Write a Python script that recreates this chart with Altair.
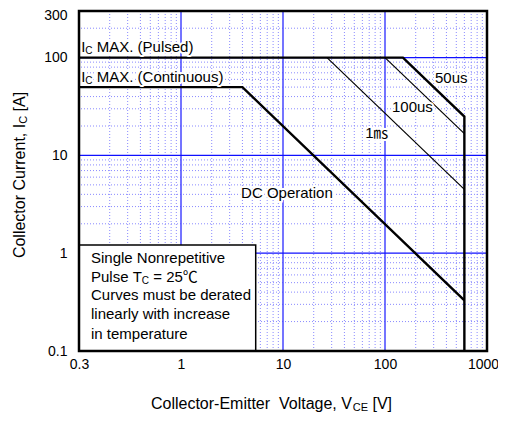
import altair as alt
import pandas as pd

FONT = "Liberation Sans, Arial, sans-serif"
CJK = "Noto Sans CJK KR, Noto Sans CJK JP, sans-serif"

# ---------------- axes ----------------
x_domain = [0.1, 1000]
y_domain = [0.1, 300]
x_tick_values = [0.1, 1, 10, 100, 1000]
x_tick_labels = ["0.3", "1", "10", "100", "1000"]
y_tick_values = [0.1, 1, 10, 100, 300]
y_tick_labels = ["0.1", "1", "10", "100", "300"]

# grid values
major_x = [1, 10, 100]
major_y = [1, 10, 100]
minor_x = [m * d for d in (0.1, 1, 10, 100) for m in range(2, 10)]
minor_y = [m * d for d in (0.1, 1, 10) for m in range(2, 10)] + [200]

# ---------------- curves (V_CE [V], I_C [A]) ----------------
curve_names = ["50us", "DC", "100us", "1ms"]
curve_v = {
    "50us": [0.1, 150, 600, 600],
    "DC": [0.1, 4, 600],
    "100us": [100, 600],
    "1ms": [27, 600],
}
curve_i = {
    "50us": [100, 100, 25, 0.1],
    "DC": [50, 50, 0.33],
    "100us": [100, 16.7],
    "1ms": [100, 4.5],
}
thick_curves = ["50us", "DC"]

# note box extent (data units)
box_v = [0.1, 5.4]
box_i = [0.1, 1.21]

# ---------------- texts ----------------
SUB = "sub"
CJ = "cjk"
annotations = [
    # (V, I, parts)
    (0.105, 130, [("I", ""), ("C", SUB), (" MAX. (Pulsed)", "")]),
    (0.105, 63.8, [("I", ""), ("C", SUB), (" MAX. (Continuous)", "")]),
    (309, 62.4, [("50us", "")]),
    (117, 31.4, [("100us", "")]),
    (64, 17.0, [("1", ""), ("\u33b3", CJ)]),
    (3.88, 4.12, [("DC Operation", "")]),
]
note_x = 0.131
note_y = [0.889, 0.567, 0.371, 0.237, 0.148]
note_lines = [
    [("Single Nonrepetitive", "")],
    [("Pulse T", ""), ("C", SUB), (" = 25", ""), ("\u2103", CJ)],
    [("Curves must be derated", "")],
    [("linearly with increase", "")],
    [("in temperature", "")],
]
x_title_parts = [("Collector-Emitter  Voltage, V", ""), ("CE", SUB), (" [V]", "")]
y_title_parts = [("Collector Current, I", ""), ("C", SUB), (" [A]", "")]

# ---------------- helpers ----------------
W = {" ": 278, "!": 278, "(": 333, ")": 333, ",": 278, "-": 333, ".": 278,
     "=": 584, "[": 278, "]": 278,
     "A": 667, "C": 722, "D": 722, "E": 667, "I": 278, "M": 833, "N": 722,
     "O": 778, "P": 667, "S": 667, "T": 611, "V": 667, "X": 667,
     "a": 556, "b": 556, "c": 500, "d": 556, "e": 556, "f": 278, "g": 556,
     "h": 556, "i": 222, "k": 500, "l": 222, "m": 833, "n": 556, "o": 556,
     "p": 556, "r": 333, "s": 500, "t": 278, "u": 556, "v": 500, "w": 722,
     "y": 500, "\u2103": 1000, "\u33b3": 1000}


def tw(s, fs):
    return sum(W.get(ch, 556) for ch in s) * fs / 1000.0


def split_lead(t):
    """leading spaces are dropped by the renderer: turn them into offset."""
    body = t.lstrip(" ")
    lead = len(t) - len(body)
    return lead, body.rstrip(" ").replace(" ", "\u00a0")


def label_expr(values, labels):
    expr = "''"
    for v, l in reversed(list(zip(values, labels))):
        expr = f"(abs(datum.value - {v}) < {v * 1e-6} ? '{l}' : {expr})"
    return expr


xs = alt.Scale(type="log", domain=x_domain, nice=False)
ys = alt.Scale(type="log", domain=y_domain, nice=False)
x_axis = alt.Axis(values=x_tick_values, labelExpr=label_expr(x_tick_values, x_tick_labels),
                  title=None, grid=False, ticks=False, tickSize=0, domain=False,
                  labelFont=FONT, labelFontSize=14, labelColor="black", labelPadding=6,
                  labelFlush=False, labelOverlap=False,
                  labelOffset={"condition": {"test": "datum.value > 500", "value": -4},
                               "value": 0})
y_axis = alt.Axis(values=y_tick_values, labelExpr=label_expr(y_tick_values, y_tick_labels),
                  title=None, grid=False, ticks=False, tickSize=0, domain=False,
                  labelFont=FONT, labelFontSize=14, labelColor="black", labelPadding=12,
                  labelFlush=False, labelOverlap=False,
                  labelOffset={"condition": {"test": "datum.value > 200", "value": 4},
                               "value": 0})


def X(f):
    return alt.X(f, type="quantitative", scale=xs, axis=x_axis)


def Y(f):
    return alt.Y(f, type="quantitative", scale=ys, axis=y_axis)


ANN = 15
SUBFS = 10

layers = []

# minor grid
layers.append(alt.Chart(pd.DataFrame({"gx": minor_x})).mark_rule(
    color="#8a8aff", strokeWidth=1, strokeDash=[1, 2]).encode(x=X("gx")))
layers.append(alt.Chart(pd.DataFrame({"gy": minor_y})).mark_rule(
    color="#8a8aff", strokeWidth=1, strokeDash=[1, 2]).encode(y=Y("gy")))
# major grid
layers.append(alt.Chart(pd.DataFrame({"gx": major_x})).mark_rule(
    color="#4646ff", strokeWidth=1.5).encode(x=X("gx")))
layers.append(alt.Chart(pd.DataFrame({"gy": major_y})).mark_rule(
    color="#1010ff", strokeWidth=1.2).encode(y=Y("gy")))

# curves
rows = []
for name in curve_names:
    for k, (v, i) in enumerate(zip(curve_v[name], curve_i[name])):
        rows.append({"series": name, "v": v, "i": i, "k": k})
curves = pd.DataFrame(rows)
thick = curves[curves.series.isin(thick_curves)]
thin = curves[~curves.series.isin(thick_curves)]
layers.append(alt.Chart(thin).mark_line(color="black", strokeWidth=1.2).encode(
    x=X("v"), y=Y("i"), detail="series:N", order="k:Q"))
layers.append(alt.Chart(thick).mark_line(color="black", strokeWidth=2.4).encode(
    x=X("v"), y=Y("i"), detail="series:N", order="k:Q"))

# note box
layers.append(alt.Chart(pd.DataFrame({"v": [box_v[0]], "v2": [box_v[1]],
                                      "i": [box_i[0]], "i2": [box_i[1]]})).mark_rect(
    fill="white", stroke="black", strokeWidth=1.5).encode(
    x=X("v"), x2="v2", y=Y("i"), y2="i2"))

halos, texts = [], []


def part_style(kind, base):
    if kind == SUB:
        return FONT, SUBFS, 4
    if kind == CJ:
        return CJK, base, 0
    return FONT, base, 0


def add_text(v, i, parts, halo=True):
    off = 0.0
    for t, kind in parts:
        font, fs, dy = part_style(kind, ANN)
        lead, body = split_lead(t)
        off += tw(" " * lead, fs)
        d = pd.DataFrame({"v": [v], "i": [i], "t": [body]})
        kw = dict(align="left", baseline="middle", font=font, fontSize=fs, dx=off, dy=dy)
        enc = dict(x=X("v"), y=Y("i"), text="t:N")
        if halo:
            halos.append(alt.Chart(d).mark_text(stroke="white", strokeWidth=4, fill="white",
                                                strokeJoin="round", **kw).encode(**enc))
        texts.append(alt.Chart(d).mark_text(fill="black", **kw).encode(**enc))
        off += tw(t.lstrip(" "), fs)


for v, i, parts in annotations:
    add_text(v, i, parts)
for yy, parts in zip(note_y, note_lines):
    add_text(note_x, yy, parts, halo=False)

layers += halos + texts

# frame
layers.append(alt.Chart(pd.DataFrame({"v": [x_domain[0]], "v2": [x_domain[1]],
                                      "i": [y_domain[0]], "i2": [y_domain[1]]})).mark_rect(
    fill="transparent", stroke="black", strokeWidth=2.5).encode(
    x=X("v"), x2="v2", y=Y("i"), y2="i2"))

# axis titles (with subscripts) placed outside the plot area
TFS = 16
TSUB = 11


def title_width(parts):
    return sum(tw(t, TSUB if k == SUB else TFS) for t, k in parts)


def add_title(parts, px, py, angle):
    off = 0.0
    out = []
    for t, kind in parts:
        fs = TSUB if kind == SUB else TFS
        dy = 4 if kind == SUB else 0
        lead, body = split_lead(t)
        off += tw(" " * lead, fs)
        kw = dict(align="left", baseline="middle", font=FONT, fontSize=fs, dx=off, dy=dy,
                  fill="black")
        if angle:
            kw["angle"] = angle
        ch = alt.Chart(pd.DataFrame({"t": [body]})).mark_text(**kw).encode(
            x=alt.value(px), y=alt.value(py), text="t:N")
        out.append(ch)
        off += tw(t.lstrip(" "), fs)
    return out


PLOT_W, PLOT_H = 408, 340
layers += add_title(x_title_parts, 192.5 - title_width(x_title_parts) / 2, 393, 0)
layers += add_title(y_title_parts, -59, 164 + title_width(y_title_parts) / 2, 270)

chart = alt.layer(*layers).properties(
    width=PLOT_W, height=PLOT_H,
    autosize=alt.AutoSizeParams(type="none"),
    padding={"left": 71, "top": 3, "right": 11, "bottom": 61},
    background="white",
).configure_view(stroke=None)

chart.save("out.html", embed_options={"renderer": "svg", "actions": False})
